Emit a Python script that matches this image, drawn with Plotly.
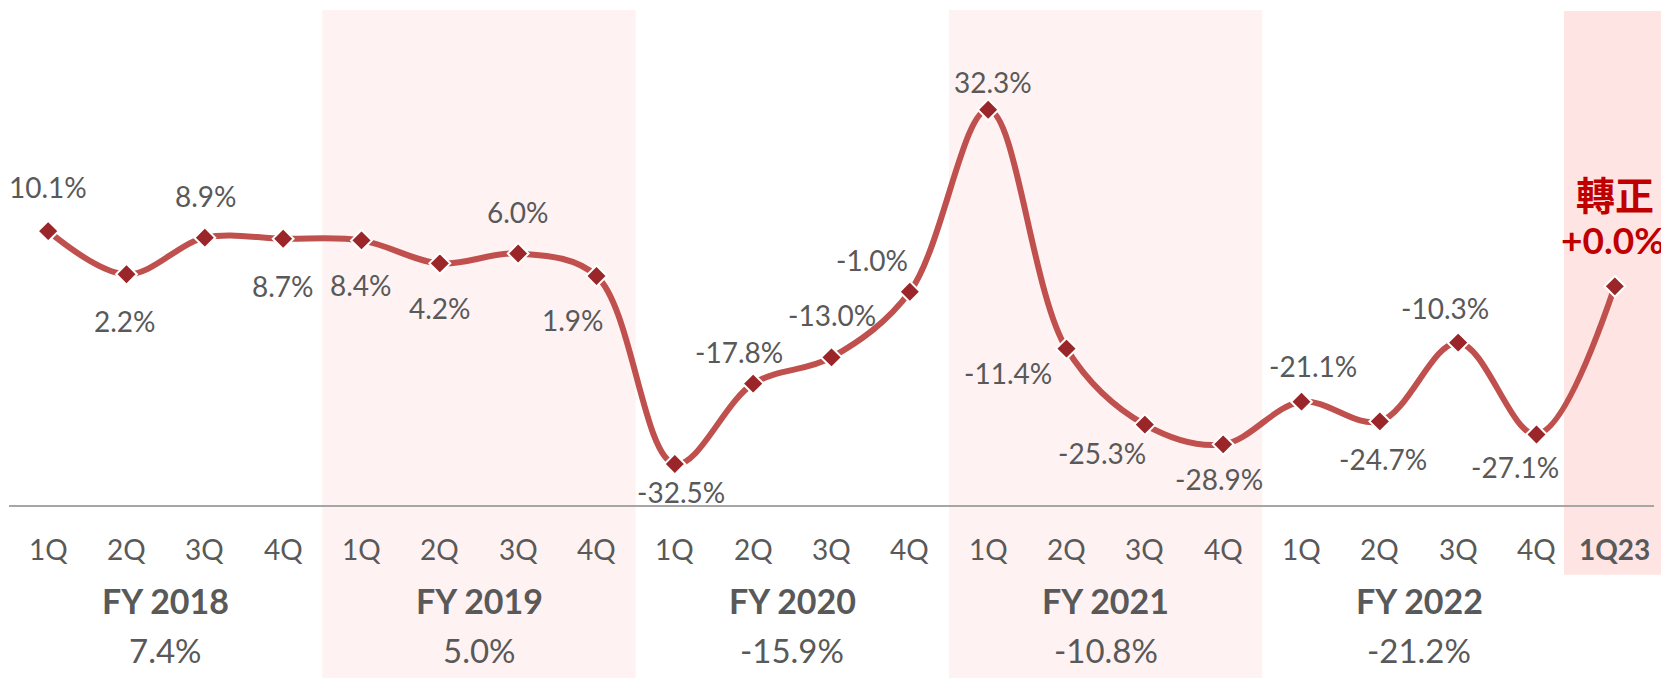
import plotly.graph_objects as go

# ---- data ----
quarters = ["1Q", "2Q", "3Q", "4Q"] * 5 + ["1Q23"]
values = [10.1, 2.2, 8.9, 8.7,
          8.4, 4.2, 6.0, 1.9,
          -32.5, -17.8, -13.0, -1.0,
          32.3, -11.4, -25.3, -28.9,
          -21.1, -24.7, -10.3, -27.1,
          0.0]
fy_labels = ["FY 2018", "FY 2019", "FY 2020", "FY 2021", "FY 2022"]
fy_values = [7.4, 5.0, -15.9, -10.8, -21.2]
last_tag = "轉正"

# ---- style ----
FONT = "Lato, 'Noto Sans', 'Noto Sans CJK TC', sans-serif"
GRAY = "#595959"
LINE = "#C0504D"
MARK = "#9A2629"
RED = "#C00000"
SHADE = "#FFF2F2"
SHADE2 = "#FFE4E4"

# label offsets in pixels (dx right, dy down)
offsets = [(0, -44), (-2, 47), (1, -42), (0, 47),
           (-1, 45), (0, 45), (0, -42), (-24, 44),
           (6, 28), (-14, -32), (0, -42), (-38, -32),
           (5, -28), (-59, 24), (-43, 28), (-4, 35),
           (11, -36), (3, 38), (-13, -35), (-22, 33)]

x = list(range(len(values)))
n = len(values)

fig = go.Figure()
fig.add_trace(go.Scatter(
    x=x, y=values, mode="lines+markers",
    line=dict(color=LINE, width=6, shape="spline", smoothing=1.0),
    marker=dict(symbol="diamond", size=16, color=MARK,
                line=dict(color="white", width=2)),
    hoverinfo="skip", showlegend=False))

def px(i):
    return (i + 0.5) / n

shapes = []
for a, b in [(3.5, 7.5), (11.5, 15.5)]:
    shapes.append(dict(type="rect", xref="paper", yref="paper",
                       x0=px(a), x1=px(b), y0=-0.36, y1=1.006,
                       fillcolor=SHADE, line_width=0, layer="below"))
shapes.append(dict(type="rect", xref="paper", yref="paper",
                   x0=px(19.35), x1=px(20.64), y0=-0.142, y1=1.004,
                   fillcolor=SHADE2, line_width=0, layer="below"))

ann = []
for i, v in enumerate(values[:-1]):
    dx, dy = offsets[i]
    ann.append(dict(x=i, y=v, xref="x", yref="y", text=f"{v:.1f}%",
                    showarrow=False, xshift=dx, yshift=-dy,
                    font=dict(family=FONT, size=28, color=GRAY)))
# last point special label
ann.append(dict(x=n - 1, y=values[-1], xref="x", yref="y",
                text=f"<b>+{values[-1]:.1f}%</b>", showarrow=False,
                xshift=-2, yshift=47,
                font=dict(family=FONT, size=37, color=RED)))
ann.append(dict(x=n - 1, y=values[-1], xref="x", yref="y",
                text=f"<b>{last_tag}</b>", showarrow=False,
                xshift=0, yshift=93,
                font=dict(family="'Noto Sans CJK TC', sans-serif", size=39, color=RED)))

# quarter labels
for i, q in enumerate(quarters):
    bold = (i == n - 1)
    ann.append(dict(x=i, y=0, xref="x", yref="paper",
                    text=f"<b>{q}</b>" if bold else q, showarrow=False,
                    yshift=-44, yanchor="middle",
                    font=dict(family=FONT, size=28, color=GRAY)))
# FY labels and annual values
for k, (lab, val) in enumerate(zip(fy_labels, fy_values)):
    cx = 4 * k + 1.5
    ann.append(dict(x=cx, y=0, xref="x", yref="paper", text=f"<b>{lab}</b>",
                    showarrow=False, yshift=-95, yanchor="middle",
                    font=dict(family=FONT, size=34, color=GRAY)))
    ann.append(dict(x=cx, y=0, xref="x", yref="paper", text=f"{val:.1f}%",
                    showarrow=False, yshift=-145, yanchor="middle",
                    font=dict(family=FONT, size=33, color=GRAY)))

# page body has an 8px margin; margins compensate so the plot lands in place
fig.update_layout(
    width=1669, height=678,
    margin=dict(l=1, r=23, t=5, b=181),
    paper_bgcolor="white", plot_bgcolor="rgba(0,0,0,0)",
    shapes=shapes, annotations=ann,
    xaxis=dict(range=[-0.5, n - 0.5], showgrid=False, zeroline=False,
               showticklabels=False, ticks="", showline=True,
               linecolor="#A6A6A6", linewidth=2, fixedrange=True),
    yaxis=dict(range=[-40, 50], showgrid=False, zeroline=False,
               showticklabels=False, ticks="", showline=False, fixedrange=True),
)

fig.write_html("out.html")
